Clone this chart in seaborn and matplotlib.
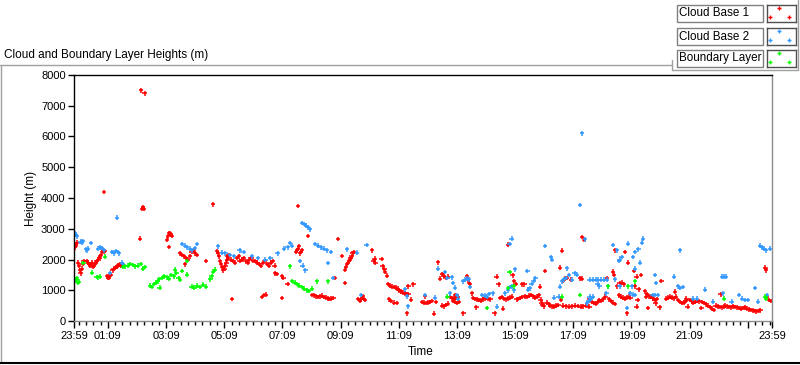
import matplotlib
matplotlib.use("Agg")
import matplotlib.pyplot as plt
import pandas as pd
import seaborn as sns
from matplotlib.lines import Line2D
from matplotlib.patches import Rectangle

# (minutes after 23:59, height in m)
cloud_base_1 = [
    (2, 2400), (4, 2500), (6, 2550), (4, 2450),
    (8, 1900), (10, 1800), (12, 1650), (14, 1550), (16, 1700), (18, 1850), (20, 1950),
    (27, 1950), (29, 1900), (31, 1850), (33, 1800), (35, 1850), (37, 1900),
    (39, 1750), (41, 1800), (43, 1850), (45, 1900), (47, 1950), (50, 2000), (52, 2050),
    (54, 2100), (56, 2150), (58, 2250), (60, 2300), (62, 2250), (64, 2280),
    (68, 1450), (70, 1420), (72, 1400), (74, 1480), (76, 1500),
    (80, 1650), (82, 1700), (85, 1720), (87, 1750), (89, 1780), (91, 1800), (93, 1820),
    (95, 1850), (97, 1800), (99, 1850),
    (62, 4200), (138, 7500), (146, 7400), (140, 3650), (142, 3700), (144, 3650), (136, 2680),
    (192, 2650), (194, 2750), (196, 2850), (198, 2860), (200, 2800), (202, 2780), (196, 2410),
    (219, 2200), (223, 2150), (227, 2100), (231, 2050), (235, 2000), (239, 2100),
    (243, 2250), (247, 2300), (229, 1840), (250, 2200), (254, 2150),
    (272, 1950), (287, 3790),
    (295, 2270), (297, 2200), (299, 2100), (301, 1950), (303, 1850), (305, 1750),
    (308, 1650), (310, 1700), (312, 1800), (314, 1900), (316, 2000), (318, 2050),
    (316, 2100), (320, 2150), (324, 2000), (328, 1950), (332, 1900), (336, 2050), (340, 2100),
    (342, 1950), (346, 2000), (350, 2050), (354, 1950), (358, 1900), (362, 2000),
    (366, 2050), (370, 1950), (374, 1950), (378, 1900),
    (382, 1850), (386, 1800), (390, 1900), (394, 1950), (398, 1850), (402, 1800),
    (406, 1900), (410, 1950), (414, 1800),
    (415, 1550), (418, 1530), (429, 1450), (432, 1400), (441, 1200),
    (458, 2250), (460, 2300), (462, 2350), (464, 2430), (466, 2200), (468, 2250), (470, 2300),
    (462, 3740), (483, 2760),
    (491, 850), (495, 830), (499, 800), (503, 780), (507, 800), (511, 820), (515, 780),
    (519, 760), (523, 740), (527, 720), (531, 730), (535, 750),
    (545, 2670), (553, 2110),
    (559, 1670), (561, 1750), (563, 1850), (565, 1900), (567, 1950), (569, 2000),
    (571, 2050), (573, 2100), (575, 2200), (577, 2250),
    (538, 1400), (559, 1240),
    (326, 720), (388, 780), (392, 840), (396, 860), (429, 750), (586, 720),
    (590, 650), (592, 700), (594, 750), (596, 800), (598, 720), (600, 680),
    (615, 2300), (618, 1950), (620, 2030), (622, 1900), (635, 2010),
    (637, 1780), (640, 1700), (642, 1600), (646, 1470),
    (648, 1200), (652, 1150), (656, 1120), (660, 1100), (664, 1080), (668, 1050),
    (670, 1000), (674, 960), (678, 920), (682, 900), (686, 880), (690, 870),
    (650, 700), (654, 650), (660, 600), (666, 580), (687, 250),
    (690, 1130), (695, 690), (700, 1190),
    (718, 620), (722, 600), (726, 580), (730, 600), (734, 620), (738, 650), (724, 800),
    (743, 240), (747, 620),
    (751, 1910), (755, 1380), (759, 1520), (763, 1470), (767, 1400), (771, 1440),
    (759, 500), (763, 480), (767, 520), (771, 560),
    (776, 780), (780, 750), (784, 730), (788, 760), (792, 790), (786, 840),
    (782, 660), (786, 620), (790, 580), (794, 620), (803, 250),
    (811, 1450), (813, 1350), (815, 1250), (817, 1200), (821, 900),
    (823, 750), (827, 720), (831, 700), (835, 680), (839, 650), (843, 700), (847, 740),
    (851, 760), (855, 720), (859, 700), (830, 440),
    (868, 250), (872, 1440), (876, 1190),
    (879, 750), (883, 780), (887, 720), (891, 700), (895, 730), (899, 760), (903, 790),
    (885, 400), (895, 2480),
    (905, 1480), (908, 1300), (911, 1200),
    (913, 700), (917, 720), (921, 750), (925, 780), (924, 1190), (929, 1190),
    (930, 800), (935, 780), (939, 820), (943, 840), (947, 800), (951, 760), (955, 790), (959, 830),
    (961, 1120), (963, 690), (965, 600), (967, 520), (969, 480), (972, 1630),
    (975, 600), (979, 540), (983, 500), (987, 480), (991, 470), (995, 500), (999, 520),
    (1003, 1730), (1007, 2290), (1005, 680),
    (1009, 500), (1015, 480), (1021, 470), (1027, 480), (1033, 500), (1039, 490),
    (1045, 470), (1051, 480), (1057, 500), (1063, 470),
    (1009, 1300), (1013, 1380), (1017, 1400), (1025, 1340), (1044, 1390), (1048, 1380),
    (1048, 2730), (1052, 2650),
    (1064, 700), (1068, 620), (1072, 580), (1076, 560), (1080, 620), (1084, 680),
    (1088, 650), (1092, 720), (1096, 790), (1100, 1390),
    (1104, 700), (1108, 650), (1112, 600), (1116, 550),
    (1112, 1600), (1114, 1510), (1116, 2300), (1120, 1130),
    (1126, 1220), (1130, 1250), (1134, 1190), (1137, 2250), (1143, 1900),
    (1124, 840), (1128, 790), (1132, 760), (1136, 730), (1140, 760), (1144, 790), (1148, 760),
    (1141, 250), (1155, 1620), (1157, 1130),
    (1161, 1440), (1165, 1030), (1163, 680), (1161, 470), (1170, 1500),
    (1178, 960), (1182, 870), (1180, 790), (1186, 800), (1184, 420),
    (1190, 790), (1194, 740), (1198, 680), (1202, 720), (1200, 570), (1208, 440), (1212, 1300),
    (1222, 730), (1226, 760), (1230, 790), (1234, 760), (1238, 740), (1240, 950), (1242, 790),
    (1246, 680), (1250, 620), (1254, 580), (1258, 600), (1262, 650), (1263, 730), (1266, 470),
    (1270, 680), (1274, 640), (1278, 600), (1282, 620), (1286, 660), (1290, 640), (1294, 420),
    (1296, 620), (1300, 580), (1304, 540), (1308, 500), (1312, 460), (1316, 400), (1320, 360),
    (1324, 500), (1328, 480), (1332, 460), (1336, 440), (1340, 470), (1344, 500),
    (1348, 480), (1352, 460), (1356, 440), (1334, 870),
    (1360, 480), (1364, 460), (1368, 440), (1372, 420), (1376, 400), (1380, 420),
    (1384, 440), (1388, 400),
    (1392, 380), (1396, 360), (1400, 350), (1404, 330), (1408, 310), (1412, 330), (1416, 350),
    (1426, 1730), (1428, 1650), (1430, 790), (1434, 680), (1438, 650),
]

cloud_base_2 = [
    (2, 2850), (4, 2800), (6, 2750), (14, 2580), (16, 2550), (18, 2600),
    (25, 2330), (27, 2300), (29, 2350), (35, 2540), (50, 2350), (54, 2400), (58, 2380), (62, 2300),
    (78, 2250), (82, 2200), (86, 2280), (90, 2250), (93, 2200), (89, 3360), (74, 1560),
    (99, 1900), (101, 1850),
    (223, 2500), (229, 2450), (233, 2400), (239, 2350), (243, 2300), (250, 2380), (254, 2500),
    (297, 2430), (305, 2220), (312, 2200), (322, 2150), (330, 2100), (342, 2300), (350, 2250),
    (367, 2100), (380, 2050), (395, 2000), (405, 2050), (420, 2200),
    (433, 2350), (441, 2400), (450, 2450), (446, 2540),
    (470, 3190), (475, 3150), (479, 3100), (483, 3050), (487, 2980),
    (466, 1950), (472, 1800), (477, 1650),
    (497, 2500), (503, 2450), (509, 2400), (515, 2350), (522, 2300), (530, 2250),
    (524, 1890), (534, 1400), (563, 2330), (584, 2220), (592, 850), (604, 2470),
    (683, 1030), (687, 800), (689, 480), (724, 840), (745, 760),
    (751, 1700), (765, 1590), (770, 1400), (782, 1240), (786, 1080), (780, 1420),
    (776, 900), (790, 840), (792, 730),
    (803, 1290), (807, 1340), (811, 1380), (815, 1350),
    (817, 1100), (842, 840), (848, 820), (856, 880), (864, 900), (852, 790), (873, 470),
    (899, 2510), (903, 2680),
    (889, 900), (895, 1000), (900, 1100), (904, 1130), (908, 1000), (910, 1680),
    (935, 1620), (937, 1020), (940, 1060), (944, 1200), (948, 1300), (952, 1390),
    (972, 2440), (986, 2000), (984, 2080), (990, 760), (1000, 790), (1003, 1120),
    (1007, 1290), (1011, 1350), (1015, 1400), (1017, 1710), (1021, 1490),
    (1027, 1340), (1033, 1560), (1037, 1510),
    (1044, 3770), (1048, 6100), (1054, 2660),
    (1058, 570), (1062, 650), (1066, 720), (1070, 790), (1064, 790),
    (1064, 1340), (1070, 1340), (1076, 1340), (1082, 1340), (1088, 1340), (1094, 1340), (1100, 1340),
    (1080, 1200), (1084, 1130), (1098, 900), (1102, 1130),
    (1112, 2470), (1120, 2300), (1124, 1950), (1126, 2000), (1130, 2080),
    (1116, 1350), (1126, 1130), (1143, 2520),
    (1153, 2080), (1157, 2250), (1164, 2330), (1168, 1900), (1172, 2550), (1174, 2680), (1157, 1700),
    (1141, 420), (1147, 900), (1153, 860), (1157, 840), (1151, 1130),
    (1199, 1500), (1201, 1240), (1194, 840), (1199, 840), (1205, 840),
    (1238, 1440), (1246, 1130), (1250, 1070), (1256, 1100), (1250, 2300),
    (1277, 730), (1285, 730), (1302, 1020), (1318, 630),
    (1337, 1440), (1341, 1440), (1345, 1440), (1339, 900), (1357, 630),
    (1372, 840), (1378, 730), (1384, 680), (1390, 680), (1405, 1070), (1411, 630),
    (1415, 2450), (1419, 2400), (1423, 2350), (1428, 2300), (1436, 2350), (1430, 840),
]

boundary_layer = [
    (2, 1300), (4, 1350), (6, 1400), (8, 1250), (10, 1280),
    (19, 1890), (37, 1570), (47, 1430), (50, 1420), (54, 1440), (64, 2090),
    (101, 1750), (105, 1780), (111, 1800), (116, 1850), (122, 1820), (126, 1780),
    (132, 1800), (138, 1850), (142, 1700), (146, 1750),
    (157, 1150), (161, 1100), (165, 1200), (169, 1250), (173, 1290), (177, 1080),
    (175, 1350), (181, 1400), (186, 1450), (191, 1420), (196, 1380), (201, 1500),
    (206, 1450), (211, 1560), (216, 1400), (219, 1330),
    (208, 1670), (223, 1620), (233, 1510), (233, 1950),
    (243, 1120), (248, 1080), (254, 1150), (260, 1100), (266, 1180), (272, 1120),
    (281, 1350), (284, 1450), (287, 1600), (291, 1670),
    (446, 1780), (450, 1300), (455, 1250), (460, 1200), (465, 1150), (470, 1100),
    (475, 1050), (480, 1000), (485, 980), (491, 1050), (501, 1290), (524, 1290),
    (770, 790), (852, 420), (899, 1590), (895, 1070), (907, 1130),
    (1007, 790), (1044, 840), (1102, 1130), (1143, 1130), (1157, 1290),
    (1341, 730), (1426, 790), (1428, 730),
]

series_names = ["Cloud Base 1", "Cloud Base 2", "Boundary Layer"]
series_colors = ["#ff0000", "#3399ff", "#00ff00"]

major_ticks = [0, 70, 190, 310, 430, 550, 670, 790, 910, 1030, 1150, 1270, 1390, 1440]
major_labels = ["23:59", "01:09", "03:09", "05:09", "07:09", "09:09", "11:09",
                "13:09", "15:09", "17:09", "19:09", "21:09", "", "23:59"]

frames = []
for name, pts in zip(series_names, [cloud_base_1, cloud_base_2, boundary_layer]):
    d = pd.DataFrame(pts, columns=["minutes", "height"])
    d["series"] = name
    frames.append(d)
df = pd.concat(frames, ignore_index=True)

sns.set_theme(style="white")
plt.rcParams["font.family"] = ["Liberation Sans", "DejaVu Sans"]

W, H = 800, 365
fig = plt.figure(figsize=(W / 100, H / 100), dpi=100)
fig.patch.set_facecolor("white")


def fx(x):
    return x / W


def fy(y):
    return 1 - y / H


ax = fig.add_axes([fx(74), fy(321), (772 - 74) / W, (321 - 75) / H])
sns.scatterplot(data=df, x="minutes", y="height", hue="series",
                palette=dict(zip(series_names, series_colors)),
                marker="+", s=11, linewidth=1.1, legend=False, ax=ax)

ax.set_xlim(0, 1440)
ax.set_ylim(0, 8000)
ax.set_xticks(major_ticks)
ax.set_xticklabels(major_labels)
ax.set_xticks(list(range(10, 1440, 15)), minor=True)
ax.set_yticks(range(0, 8001, 1000))
ax.tick_params(axis="both", which="major", direction="out", length=4, width=1,
               color="black", labelsize=8, pad=2, labelcolor="black")
ax.tick_params(axis="x", which="minor", direction="out", length=3, width=1, color="black")
ax.tick_params(axis="x", which="major", length=5)
ax.tick_params(axis="x", bottom=True, which="both")
ax.tick_params(axis="y", left=True)
ax.grid(False)

for side, col in [("left", "black"), ("top", "black"), ("right", "#8c8c8c"), ("bottom", "#8c8c8c")]:
    ax.spines[side].set_visible(True)
    ax.spines[side].set_color(col)
    ax.spines[side].set_linewidth(1)

ax.set_xlabel("Time", fontsize=8.5, color="black")
ax.set_ylabel("Height (m)", fontsize=8.5, color="black")
ax.xaxis.set_label_coords((421 - 74) / 698, -(346 - 321) / 246)
ax.yaxis.set_label_coords(-(74 - 37) / 698, 0.5)

fig.text(fx(4), fy(55), "Cloud and Boundary Layer Heights (m)", fontsize=8.5,
         ha="left", va="center", color="black")

# panel frame
gray = "#a0a0a0"
fig.add_artist(Line2D([fx(0), fx(672)], [fy(65), fy(65)], color=gray, lw=1))
fig.add_artist(Line2D([fx(1), fx(1)], [fy(65), fy(363)], color=gray, lw=1))
fig.add_artist(Line2D([fx(0), fx(800)], [fy(363), fy(363)], color="black", lw=1.5))
fig.add_artist(Line2D([fx(672), fx(672)], [fy(60), fy(70)], color=gray, lw=1))
fig.add_artist(Line2D([fx(672), fx(798)], [fy(70), fy(70)], color=gray, lw=1))
fig.add_artist(Line2D([fx(798), fx(798)], [fy(0), fy(70)], color=gray, lw=1))

# plot legend: text box + marker icon per series
row_tops = [5, 28, 50]
icon_pts_x = [0.43, 0.09, 0.77]
icon_pts_y = [0.82, 0.3, 0.3]
for name, col, top in zip(series_names, series_colors, row_tops):
    fig.add_artist(Rectangle((fx(677), fy(top + 17)), 86 / W, 17 / H,
                             transform=fig.transFigure, facecolor="white",
                             edgecolor="#808080", lw=1))
    fig.text(fx(679), fy(top + 8.5), name, fontsize=8.4, ha="left", va="center", color="black")
    iax = fig.add_axes([fx(767), fy(top + 17), 29 / W, 17 / H])
    iax.scatter(icon_pts_x, icon_pts_y, marker="+", s=10, linewidths=1.0, color=col)
    iax.set_xlim(0, 1)
    iax.set_ylim(0, 1)
    iax.set_xticks([])
    iax.set_yticks([])
    for sp in iax.spines.values():
        sp.set_visible(True)
        sp.set_color("#505050")
        sp.set_linewidth(1)

fig.savefig("out.png", dpi=100)
